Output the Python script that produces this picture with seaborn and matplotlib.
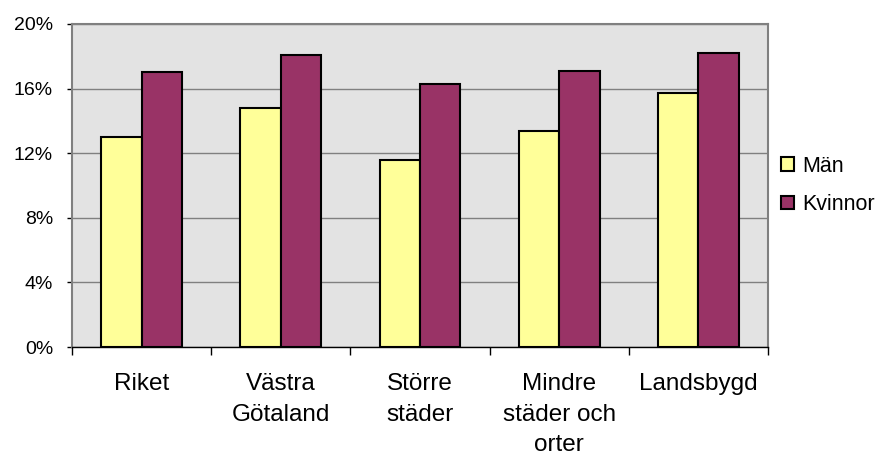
import matplotlib
matplotlib.use("Agg")
import matplotlib.pyplot as plt
import matplotlib.ticker as mticker
import pandas as pd
import seaborn as sns

# data
categories = ["Riket", "Västra\nGötaland", "Större\nstäder", "Mindre\nstäder och\norter", "Landsbygd"]
series = ["Män", "Kvinnor"]
man = [13.0, 14.8, 11.6, 13.4, 15.7]
kvinnor = [17.0, 18.1, 16.3, 17.1, 18.2]
colors = {"Män": "#FFFF99", "Kvinnor": "#993366"}
yticks = [0, 4, 8, 12, 16, 20]

df = pd.DataFrame({
    "kategori": categories * 2,
    "serie": [series[0]] * len(categories) + [series[1]] * len(categories),
    "andel": man + kvinnor,
})

sns.set_style("white")
plt.rcParams["font.family"] = ["Liberation Sans", "DejaVu Sans"]
plt.rcParams["text.color"] = "black"
plt.rcParams["xtick.color"] = "black"
plt.rcParams["ytick.color"] = "black"

fig = plt.figure(figsize=(8.77, 4.58), dpi=100)
ax = fig.add_axes([72 / 877, 1 - 347 / 458, 696 / 877, 323 / 458])
ax.set_facecolor("#E3E3E3")

sns.barplot(data=df, x="kategori", y="andel", hue="serie", order=categories,
            hue_order=series, palette=colors, saturation=1, width=0.58, gap=0,
            edgecolor="black", linewidth=1.5, ax=ax, legend=True)

ax.set_ylim(0, 20)
ax.set_xlim(-0.5, len(categories) - 0.5)
ax.set_yticks(yticks)
ax.yaxis.set_major_formatter(mticker.FuncFormatter(lambda v, p: f"{v:.0f}%"))
ax.yaxis.grid(True, color="#808080", linewidth=1)
ax.set_axisbelow(True)

# tick marks at group boundaries, labels at group centers
ax.set_xticks([i - 0.5 for i in range(len(categories) + 1)])
ax.set_xticklabels([])
ax.set_xticks(range(len(categories)), minor=True)
ax.set_xticklabels(categories, minor=True, fontsize=17.5, linespacing=1.5, va="top")
ax.tick_params(axis="x", which="major", bottom=True, length=6, width=1, direction="out")
ax.tick_params(axis="x", which="minor", bottom=True, length=0, pad=19)
ax.tick_params(axis="y", left=True, length=3.6, width=1, direction="out", labelsize=14, pad=10)

ax.set_xlabel("")
ax.set_ylabel("")

for side in ["left", "top", "right"]:
    ax.spines[side].set_color("#808080")
    ax.spines[side].set_linewidth(1.5)
ax.spines["bottom"].set_color("black")
ax.spines["bottom"].set_linewidth(1)

leg = ax.legend(loc="center left", bbox_to_anchor=(781 / 877, 1 - 185.5 / 458),
                bbox_transform=fig.transFigure, frameon=False, fontsize=15.5,
                handlelength=0.6, handleheight=0.6, handletextpad=0.37,
                labelspacing=0.8, borderpad=0, borderaxespad=0)
for h in leg.legend_handles:
    h.set_edgecolor("black")
    h.set_linewidth(1.5)

fig.savefig("out.png", dpi=100)
